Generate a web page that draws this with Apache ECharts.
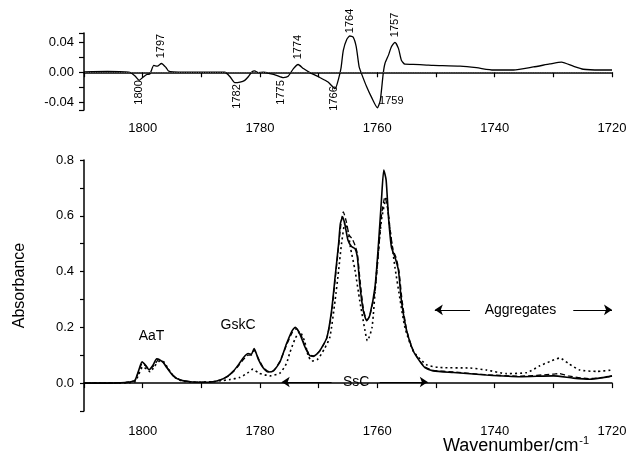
<!DOCTYPE html>
<html>
<head>
<meta charset="utf-8">
<script src="https://cdn.jsdelivr.net/npm/echarts@6/dist/echarts.min.js"></script>
<style>
	html, body { margin: 0; padding: 0; background: #fff; }
	#chart { width: 630px; height: 457px; }
</style>
</head>
<body>
<div id="chart"></div>
<script>
// top panel: difference spectrum
var diffWn = [1810, 1806, 1803, 1802.2, 1801.3, 1800.6, 1800, 1799.3, 1798.75, 1798.1, 1797.5, 1796.8, 1796, 1795.6, 1794.8, 1790, 1786,
	1785.1, 1784.3, 1783.4, 1782.6, 1782, 1781.4, 1780.9, 1780.3, 1779.4, 1778.3, 1777.2, 1776, 1775.2, 1774.3, 1773.5, 1772.6,
	1771.5, 1769.8, 1768.4, 1767.2, 1766.6, 1766.2, 1765.8, 1765.2, 1764.7, 1764.1, 1763.6, 1763.1, 1762.7, 1761.8, 1761, 1760,
	1759.5, 1759, 1758.7, 1758.1, 1757.6, 1757, 1756.4, 1755.9, 1755.3, 1753.9, 1751.6, 1750.5, 1745.9, 1743.1, 1740.2, 1736.8,
	1733.4, 1730.6, 1728.6, 1726.6, 1724.9, 1722, 1720];
var diffAbs = [0.0005, 0.001, 0.0005, 0, -0.005, -0.0107, -0.007, -0.003, -0.002, 0.009, 0.008, 0.0116, 0.006, 0.0017, 0.0005, 0, 0,
	-0.006, -0.0138, -0.013, -0.0107, -0.006, 0.0004, 0.0017, -0.0004, 0, -0.0018, -0.004, -0.007, -0.0053, 0.0049, 0.0103, 0.0049,
	-0.0004, -0.007, -0.013, -0.0218, -0.0084, 0.005, 0.029, 0.0436, 0.048, 0.0462, 0.0338, 0.007, -0.0018, -0.0196, -0.033, -0.047,
	-0.0373, -0.0018, 0.0116, 0.0227, 0.0338, 0.0396, 0.0316, 0.016, 0.0107, 0.0105, 0.0095, 0.009, 0.008, 0.006, 0.003, 0.003,
	0.007, 0.011, 0.0135, 0.008, 0.004, 0.003, 0.003];

// bottom panel: solid spectrum
var solidWn = [1810, 1806, 1803, 1801.8, 1801.3, 1800.7, 1800.1, 1799.5, 1798.9, 1798.3, 1797.6, 1797, 1796.5, 1795.9, 1794.8, 1793.6,
	1791.9, 1790, 1788, 1786.8, 1785.5, 1784.5, 1783.6, 1782.8, 1782, 1781.5, 1781, 1780.3, 1779.5, 1778.6, 1777.7, 1776.6, 1775.5,
	1774.6, 1774, 1773.2, 1772.3, 1771.5, 1770.9, 1769.8, 1768.6, 1767.8, 1767.2, 1766.6, 1766.3, 1765.9, 1765.5, 1765, 1764.4,
	1763.8, 1763.4, 1763, 1762.4, 1761.8, 1761.3, 1760.4, 1759.8, 1759.3, 1758.9, 1758.5, 1758.1, 1757.6, 1757, 1756.4, 1755.9,
	1755, 1753.9, 1752.7, 1751.9, 1750.5, 1747, 1741.4, 1735.7, 1730, 1726.6, 1723.8, 1721.5, 1720];
var solidAbs = [0, 0, 0.002, 0.006, 0.01, 0.044, 0.076, 0.064, 0.048, 0.062, 0.087, 0.082, 0.074, 0.056, 0.026, 0.011,
	0.005, 0.003, 0.005, 0.011, 0.025, 0.044, 0.068, 0.092, 0.106, 0.103, 0.124, 0.086, 0.056, 0.04, 0.044, 0.076, 0.14,
	0.185, 0.2, 0.176, 0.128, 0.098, 0.096, 0.116, 0.164, 0.26, 0.38, 0.5, 0.572, 0.596, 0.566, 0.512, 0.49,
	0.482, 0.452, 0.356, 0.26, 0.224, 0.242, 0.344, 0.5, 0.656, 0.764, 0.728, 0.596, 0.488, 0.452, 0.404, 0.296,
	0.188, 0.116, 0.076, 0.056, 0.044, 0.038, 0.029, 0.023, 0.026, 0.018, 0.014, 0.02, 0.026];

// bottom panel: dashed spectrum
var dashWn = [1810, 1806, 1803, 1801.8, 1801.3, 1800.7, 1800.1, 1799.5, 1798.9, 1798.2, 1797.2, 1796.6, 1795.9, 1794.8, 1793.6,
	1791.9, 1790, 1788, 1786.8, 1785.5, 1784.5, 1783.6, 1782.8, 1782, 1781.5, 1781, 1780.3, 1779.5, 1778.6, 1777.7, 1776.6, 1775.5,
	1774.5, 1773.8, 1773, 1772.2, 1771.4, 1770.8, 1769.8, 1768.6, 1767.8, 1767.2, 1766.6, 1766.2, 1765.8, 1765.3, 1764.8, 1764.3,
	1763.8, 1763.4, 1763, 1762.4, 1761.8, 1761.3, 1760.4, 1759.8, 1759.3, 1758.7, 1758.2, 1757.7, 1757.3, 1756.8, 1756.3, 1755.8,
	1755, 1753.9, 1752.7, 1751.9, 1750.5, 1747, 1741.4, 1735.7, 1730, 1729, 1727.5, 1724, 1721.5, 1720];
var dashAbs = [0, 0, 0.002, 0.006, 0.01, 0.04, 0.07, 0.062, 0.05, 0.06, 0.085, 0.078, 0.058, 0.027, 0.012,
	0.005, 0.003, 0.005, 0.011, 0.024, 0.042, 0.064, 0.085, 0.1, 0.1, 0.118, 0.09, 0.058, 0.042, 0.045, 0.078, 0.135,
	0.182, 0.195, 0.172, 0.125, 0.1, 0.098, 0.116, 0.162, 0.25, 0.37, 0.49, 0.57, 0.614, 0.58, 0.53, 0.518,
	0.494, 0.464, 0.38, 0.27, 0.226, 0.24, 0.33, 0.47, 0.6, 0.668, 0.62, 0.53, 0.476, 0.45, 0.4, 0.3,
	0.19, 0.118, 0.078, 0.058, 0.046, 0.04, 0.03, 0.025, 0.032, 0.034, 0.026, 0.016, 0.02, 0.025];

// bottom panel: dotted spectrum
var dotWn = [1810, 1803, 1801.3, 1800.7, 1800, 1799.3, 1798.7, 1798, 1797, 1796.4, 1795.6, 1794.6, 1793.3, 1791, 1788, 1786.8,
	1785.1, 1783.5, 1782.2, 1781.2, 1780.2, 1778.3, 1776.6, 1775.5, 1774.9, 1774, 1773.2, 1772.4, 1771.8, 1771.2, 1770.2, 1769.1,
	1768.1, 1767.2, 1766.6, 1766.1, 1765.5, 1765, 1764.6, 1763.8, 1763, 1762.1, 1761.7, 1760.9, 1760.2, 1759.3, 1758.5, 1757.9,
	1757, 1756.1, 1755.3, 1753.9, 1751.6, 1749.3, 1744.2, 1741.4, 1738, 1734.5, 1732.3, 1730.3, 1728.9, 1727.4, 1725.5, 1722.6, 1720];
var dotAbs = [0, 0.001, 0.005, 0.03, 0.058, 0.05, 0.04, 0.06, 0.08, 0.076, 0.05, 0.022, 0.008, 0.003, 0.005, 0.008,
	0.013, 0.02, 0.035, 0.05, 0.036, 0.026, 0.036, 0.07, 0.11, 0.16, 0.185, 0.15, 0.1, 0.079, 0.085, 0.12,
	0.164, 0.296, 0.404, 0.5, 0.575, 0.545, 0.488, 0.404, 0.296, 0.188, 0.152, 0.2, 0.38, 0.584, 0.662, 0.56,
	0.416, 0.296, 0.2, 0.116, 0.066, 0.056, 0.054, 0.047, 0.034, 0.038, 0.062, 0.08, 0.09, 0.07, 0.047, 0.042, 0.047];

// tick values of the upper panel
var topLabelTicks = [-0.04, 0, 0.04];

// annotations, in data coordinates
var topNotes = [
	{ text: '1797', wn: 1796.8, y: 0.0347, rotate: true },
	{ text: '1800', wn: 1800.6, y: -0.0267, rotate: true },
	{ text: '1782', wn: 1783.9, y: -0.032, rotate: true },
	{ text: '1775', wn: 1776.4, y: -0.0267, rotate: true },
	{ text: '1774', wn: 1773.5, y: 0.0333, rotate: true },
	{ text: '1764', wn: 1764.7, y: 0.068, rotate: true },
	{ text: '1757', wn: 1757.0, y: 0.0627, rotate: true },
	{ text: '1766', wn: 1767.4, y: -0.0347, rotate: true },
	{ text: '1759', wn: 1759.7, y: -0.0383, rotate: false }
];
var bottomNotes = [
	{ text: 'AaT', wn: 1798.5, y: 0.17 },
	{ text: 'GskC', wn: 1783.75, y: 0.2075 },
	{ text: 'SsC', wn: 1763.6, y: 0.002 },
	{ text: 'Aggregates', wn: 1735.6, y: 0.2626 }
];
var arrows = [
	[[1767.8, 0.004], [1776.3, 0.004]],
	[[1759.6, 0.004], [1751.4, 0.004]],
	[[1744.2, 0.2626], [1750.2, 0.2626]],
	[[1726.6, 0.2626], [1720, 0.2626]]
];

var FONT = '"Liberation Sans", Arial, sans-serif';

function pairs(xs, ys) {
	return xs.map(function (x, i) { return [x, ys[i]]; });
}

function waveAxis(gridIndex, margin) {
	return {
		type: 'value',
		gridIndex: gridIndex,
		min: 1720,
		max: 1810,
		interval: 10,
		inverse: true,
		axisLine: { lineStyle: { color: '#000', width: 1.5 } },
		axisTick: { length: 5, lineStyle: { color: '#000', width: 1.2 } },
		axisLabel: {
			margin: margin, color: '#000', fontSize: 13, fontFamily: FONT,
			formatter: function (v) { return (v % 20 === 0 && v < 1810) ? String(v) : ''; }
		},
		splitLine: { show: false }
	};
}

var axisLine = { show: true, onZero: false, lineStyle: { color: '#000', width: 1.5 } };
var tickLine = { color: '#000', width: 1.2 };

var chart = echarts.init(document.getElementById('chart'), null, { renderer: 'canvas' });

chart.setOption({
	animation: false,
	backgroundColor: '#fff',
	grid: [
		{ left: 84, right: 18, top: 33, height: 77 },
		{ left: 84, right: 18, top: 160, height: 251 }
	],
	xAxis: [waveAxis(0, 12), waveAxis(1, 14)],
	yAxis: [
		{
			type: 'value', gridIndex: 0, min: -0.05, max: 0.052,
			axisLine: axisLine,
			axisTick: { show: true, length: 5, lineStyle: tickLine },
			axisLabel: {
				margin: 10, color: '#000', fontSize: 13, fontFamily: FONT, customValues: topLabelTicks,
				formatter: function (v) { return v.toFixed(2); }
			},
			splitLine: { show: false }
		},
		{
			type: 'value', gridIndex: 1, min: -0.1, max: 0.8, interval: 0.1,
			name: 'Absorbance',
			nameLocation: 'middle',
			nameRotate: 90,
			nameGap: 56,
			nameTextStyle: { color: '#000', fontSize: 16, fontFamily: FONT },
			axisLine: axisLine,
			axisTick: { show: true, length: 4, lineStyle: tickLine },
			axisLabel: {
				margin: 10, color: '#000', fontSize: 13, fontFamily: FONT,
				formatter: function (v) {
					var k = Math.round(v * 10);
					return (k >= 0 && k % 2 === 0) ? v.toFixed(1) : '';
				}
			},
			splitLine: { show: false }
		}
	],
	series: [
		{
			type: 'line', xAxisIndex: 0, yAxisIndex: 0, data: pairs(diffWn, diffAbs),
			showSymbol: false, smooth: 0.2, lineStyle: { color: '#000', width: 1.3 },
			markLine: {
				silent: true, symbol: 'none', label: { show: false },
				lineStyle: { color: '#555', type: 'dotted', width: 1.2 },
				data: [{ yAxis: 0 }]
			}
		},
		{
			type: 'line', xAxisIndex: 1, yAxisIndex: 1, data: pairs(dotWn, dotAbs),
			showSymbol: false, smooth: 0.2, lineStyle: { color: '#000', width: 1.6, type: [2, 3] }
		},
		{
			type: 'line', xAxisIndex: 1, yAxisIndex: 1, data: pairs(dashWn, dashAbs),
			showSymbol: false, smooth: 0.2, lineStyle: { color: '#000', width: 1.3, type: [5, 3] }
		},
		{
			type: 'line', xAxisIndex: 1, yAxisIndex: 1, data: pairs(solidWn, solidAbs),
			showSymbol: false, smooth: 0.2, lineStyle: { color: '#000', width: 1.6 },
			markLine: {
				silent: true, symbol: ['none', 'arrow'], symbolSize: 8, label: { show: false },
				lineStyle: { color: '#000', type: 'solid', width: 1 },
				data: arrows.map(function (a) { return [{ coord: a[0] }, { coord: a[1] }]; })
			}
		}
	]
});

var notes = [];
topNotes.forEach(function (n) {
	var p = chart.convertToPixel({ seriesIndex: 0 }, [n.wn, n.y]);
	notes.push({
		type: 'text', x: p[0], y: p[1], rotation: n.rotate ? Math.PI / 2 : 0,
		style: { text: n.text, fill: '#000', fontSize: 11, fontFamily: FONT, align: n.rotate ? 'center' : 'left', verticalAlign: 'middle' }
	});
});
bottomNotes.forEach(function (n) {
	var p = chart.convertToPixel({ seriesIndex: 3 }, [n.wn, n.y]);
	notes.push({
		type: 'text', x: p[0], y: p[1],
		style: { text: n.text, fill: '#000', fontSize: 14, fontFamily: FONT, align: 'center', verticalAlign: 'middle' }
	});
});
notes.push({
	type: 'text', x: 443, y: 435,
	style: {
		text: '{a|Wavenumber/cm}{s|-1}', fill: '#000', fontFamily: FONT,
		rich: {
			a: { fontSize: 18, fontFamily: FONT, fill: '#000' },
			s: { fontSize: 11, fontFamily: FONT, fill: '#000', padding: [0, 0, 11, 1] }
		}
	}
});
chart.setOption({ graphic: notes });
</script>
</body>
</html>
